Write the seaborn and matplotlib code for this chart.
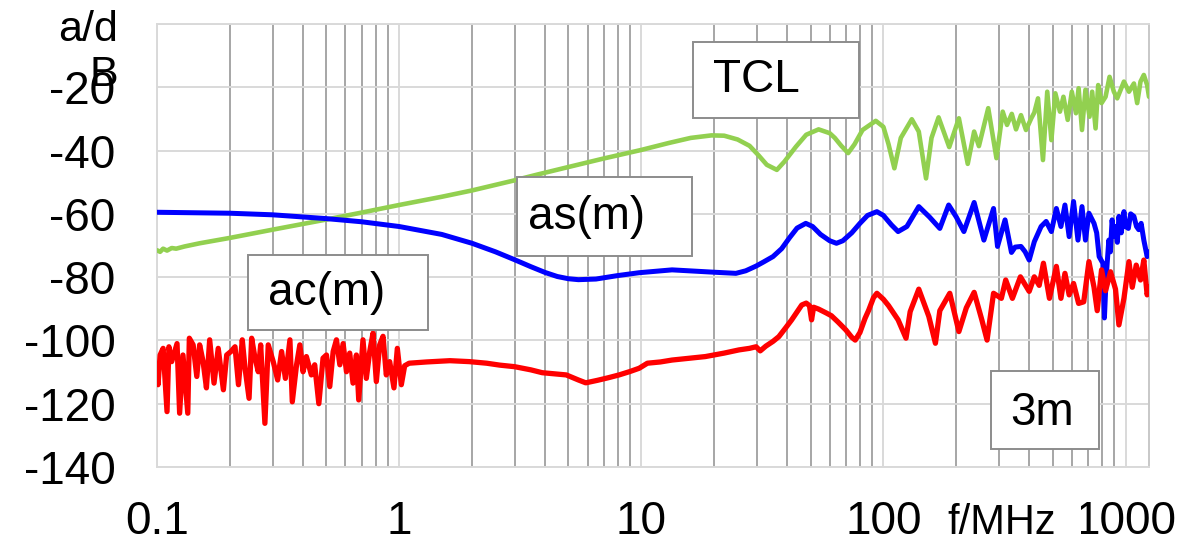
import numpy as np
import pandas as pd
import seaborn as sns
import matplotlib.pyplot as plt
from matplotlib.patches import Rectangle
from matplotlib.ticker import LogLocator, FixedLocator, NullFormatter

# TCL (green)
tcl_f = [0.1, 0.103, 0.106, 0.11, 0.115, 0.12, 0.13, 0.15, 0.2, 0.3, 0.5, 0.7, 1.0, 1.5, 2.0, 3.0,
         3.76, 5.0, 7.0, 10.0, 13.0, 16.0, 19.5, 22.0, 25.0, 28.0, 30.5, 33.0, 36.3, 39.0, 43.5,
         48.0, 54.0, 60.0, 63.0, 67.0, 71.5, 76.0, 82.0, 93.0, 100.0, 105.0, 111.0, 118.0, 131.0,
         140.0, 150.0, 158.0, 169.0, 187.0, 205.0, 223.0, 237.0, 248.0, 271.0, 293.0, 311.0, 324.0,
         339.0, 353.0, 370.0, 388.0, 408.0, 420.0, 435.0, 456.0, 475.0, 494.0, 513.0, 536.0, 554.0,
         577.0, 600.0, 624.0, 640.0, 661.0, 683.0, 710.0, 728.0, 752.0, 771.0, 796.0, 827.0, 859.0,
         895.0, 924.0, 985.0, 1033.0, 1083.0, 1117.0, 1153.0, 1190.0, 1228.0, 1250.0]
tcl_db = [-71.5, -72.0, -71.0, -71.6, -70.8, -71.0, -70.3, -69.3, -67.6, -65.0, -61.8, -59.6, -57.2,
          -54.6, -52.6, -49.4, -47.5, -45.2, -42.5, -39.8, -37.6, -36.0, -35.2, -35.3, -36.5,
          -38.5, -41.5, -44.5, -46.1, -43.5, -38.8, -35.0, -33.3, -34.5, -36.0, -38.5, -40.8,
          -38.0, -33.5, -30.6, -32.5, -38.0, -45.6, -36.0, -30.1, -34.0, -48.8, -36.0, -29.5,
          -38.9, -29.8, -44.2, -34.0, -38.6, -26.6, -42.4, -27.7, -31.9, -28.4, -33.3, -28.8,
          -33.5, -29.8, -28.0, -23.5, -43.0, -21.4, -36.7, -21.9, -27.7, -23.0, -30.3, -21.4,
          -28.2, -20.3, -33.5, -20.8, -29.3, -21.4, -33.0, -19.3, -25.0, -23.0, -16.7, -21.4,
          -23.5, -18.2, -21.4, -18.8, -25.0, -18.2, -16.1, -19.3, -23.0]

# as(m) (blue)
as_f = [0.1, 0.2, 0.3, 0.5, 0.7, 1.0, 1.5, 2.0, 2.5, 3.0, 3.5, 4.0, 4.5, 5.0, 5.5, 6.5, 8.0, 9.8,
        13.4, 19.5, 24.6, 27.0, 29.8, 32.0, 35.0, 38.0, 41.0, 44.0, 47.8, 51.0, 55.0, 60.0, 64.0,
        68.0, 74.0, 80.0, 86.0, 94.0, 100.0, 108.0, 115.0, 125.0, 140.0, 155.0, 171.0, 186.0, 200.0,
        215.0, 237.0, 260.0, 285.0, 296.0, 318.0, 338.0, 350.0, 370.0, 385.0, 400.0, 420.0, 448.0,
        470.0, 494.0, 518.0, 541.0, 562.0, 585.0, 610.0, 636.0, 661.0, 683.0, 706.0, 741.0, 760.0,
        778.0, 806.0, 818.0, 832.0, 853.0, 866.0, 880.0, 895.0, 909.0, 925.0, 939.0, 960.0, 985.0,
        1000.0, 1027.0, 1050.0, 1083.0, 1110.0, 1134.0, 1160.0, 1190.0, 1228.0, 1250.0]
as_db = [-59.5, -59.8, -60.3, -61.5, -62.5, -64.0, -66.5, -69.3, -72.0, -74.5, -76.7, -78.5, -79.8,
         -80.5, -80.8, -80.6, -79.5, -78.6, -77.7, -78.4, -78.8, -78.0, -76.5, -75.2, -73.5, -71.0,
         -67.5, -64.5, -63.0, -64.0, -66.5, -68.5, -69.3, -68.5, -66.0, -63.0, -60.5, -59.3, -60.5,
         -63.5, -65.6, -64.0, -57.7, -61.0, -64.6, -57.2, -61.0, -65.6, -56.4, -68.3, -58.3, -70.3,
         -61.9, -72.2, -70.5, -70.3, -72.0, -74.6, -68.8, -64.0, -62.4, -65.6, -58.3, -64.0, -57.2,
         -67.2, -56.1, -68.3, -57.7, -68.3, -59.8, -63.0, -66.0, -73.5, -75.6, -92.9, -80.0, -68.3,
         -72.0, -61.9, -67.0, -64.0, -69.0, -60.8, -66.0, -59.3, -64.0, -64.6, -60.0, -60.8, -64.0,
         -65.0, -63.0, -68.3, -73.5, -72.0]

# ac(m) (red)
ac_f = [0.1, 0.101, 0.103, 0.106, 0.11, 0.112, 0.115, 0.121, 0.124, 0.128, 0.134, 0.136, 0.141,
        0.146, 0.15, 0.155, 0.16, 0.165, 0.172, 0.179, 0.188, 0.194, 0.202, 0.21, 0.217, 0.225,
        0.231, 0.24, 0.246, 0.254, 0.262, 0.268, 0.279, 0.288, 0.302, 0.315, 0.327, 0.339, 0.354,
        0.362, 0.377, 0.389, 0.401, 0.414, 0.434, 0.448, 0.466, 0.485, 0.501, 0.517, 0.534, 0.551,
        0.569, 0.587, 0.606, 0.625, 0.645, 0.666, 0.681, 0.709, 0.732, 0.756, 0.78, 0.805, 0.831,
        0.858, 0.885, 0.914, 0.952, 0.983, 1.021, 1.054, 1.1, 1.3, 1.62, 1.95, 2.3, 2.6, 3.0, 3.5,
        3.9, 4.9, 5.5, 5.9, 6.6, 7.3, 8.1, 9.0, 9.8, 10.6, 12.0, 13.4, 16.0, 18.4, 22.0, 25.3,
        28.0, 29.8, 31.0, 32.7, 35.0, 37.0, 39.5, 41.8, 44.0, 46.0, 48.0, 49.5, 50.5, 51.5, 54.0,
        58.0, 61.0, 65.0, 70.0, 74.0, 76.5, 80.0, 84.0, 87.0, 91.0, 94.0, 100.0, 105.0, 115.0,
        124.0, 129.0, 140.0, 154.0, 164.0, 171.0, 188.0, 205.0, 220.0, 237.0, 255.0, 268.0, 285.0,
        307.0, 320.0, 341.0, 368.0, 400.0, 420.0, 440.0, 458.0, 485.0, 518.0, 541.0, 562.0, 585.0,
        610.0, 640.0, 672.0, 706.0, 741.0, 764.0, 796.0, 827.0, 867.0, 909.0, 939.0, 985.0, 1033.0,
        1066.0, 1107.0, 1153.0, 1190.0, 1228.0, 1250.0]
ac_db = [-108.0, -114.0, -104.6, -102.5, -122.5, -102.0, -106.7, -101.0, -123.0, -104.6, -123.0,
         -99.3, -101.4, -111.4, -101.4, -106.7, -115.0, -99.8, -113.5, -102.5, -115.6, -104.6,
         -103.5, -102.0, -114.0, -99.8, -108.8, -118.3, -99.3, -105.6, -109.9, -101.4, -126.2,
         -101.4, -106.7, -112.5, -103.5, -112.0, -99.8, -119.4, -107.7, -101.4, -109.9, -105.1,
         -110.9, -107.7, -120.0, -105.6, -104.6, -114.6, -103.5, -99.8, -107.7, -101.0, -109.9,
         -104.0, -113.5, -104.6, -118.8, -99.8, -112.0, -103.5, -97.7, -113.0, -101.4, -98.7,
         -110.9, -106.7, -115.0, -102.5, -114.0, -108.0, -107.2, -106.8, -106.4, -106.7, -107.2,
         -107.8, -108.3, -109.3, -110.2, -110.9, -112.5, -113.4, -112.6, -111.8, -110.9, -109.8,
         -108.8, -107.2, -106.8, -106.2, -105.6, -105.1, -104.0, -103.0, -102.5, -102.0, -103.3,
         -101.8, -100.3, -98.8, -96.0, -93.5, -91.0, -88.8, -88.2, -89.0, -93.5, -89.5, -90.1,
         -91.3, -92.2, -94.2, -96.7, -99.0, -99.9, -97.5, -93.0, -90.4, -86.5, -85.1, -87.0, -89.0,
         -93.5, -99.3, -90.9, -83.8, -92.4, -100.9, -90.6, -85.1, -97.2, -89.7, -84.8, -93.5, -99.9,
         -85.1, -86.7, -80.9, -86.7, -79.9, -84.5, -79.9, -82.6, -75.6, -86.7, -76.6, -86.7, -78.8,
         -85.6, -82.0, -88.3, -87.8, -75.1, -83.2, -90.6, -77.7, -84.3, -78.3, -83.8, -95.1, -86.7,
         -75.1, -83.2, -76.2, -80.9, -74.6, -85.6, -83.0]

x_ticks = [0.1, 1, 10, 100, 1000]
x_labels = ["0.1", "1", "10", "100", "1000"]
y_ticks = [-140, -120, -100, -80, -60, -40, -20, 0]
y_labels = ["-140", "-120", "-100", "-80", "-60", "-40", "-20", ""]

sns.set_style("white")
plt.rcParams["font.family"] = ["Liberation Sans", "DejaVu Sans"]
plt.rcParams["axes.unicode_minus"] = False
plt.rcParams["text.color"] = "black"

W, H = 1199, 543
fig = plt.figure(figsize=(W / 100, H / 100), dpi=100)
ax = fig.add_axes([157 / W, (H - 467) / H, 992 / W, 443 / H])

green, blue, red = "#92D050", "#0000FF", "#FF0000"
for f, v, c, lw in [(tcl_f, tcl_db, green, 3.3), (as_f, as_db, blue, 3.6), (ac_f, ac_db, red, 3.8)]:
    df = pd.DataFrame({"f": f, "a": v})
    sns.lineplot(data=df, x="f", y="a", ax=ax, color=c, linewidth=lw,
                 estimator=None, sort=False, solid_joinstyle="round", zorder=3)

ax.set_xscale("log")
ax.set_xlim(0.1, 1250)
ax.set_ylim(-140, 0)
ax.xaxis.set_major_locator(FixedLocator(x_ticks))
ax.set_xticklabels(x_labels)
ax.xaxis.set_minor_locator(LogLocator(base=10, subs=np.arange(2, 10)))
ax.xaxis.set_minor_formatter(NullFormatter())
ax.set_yticks(y_ticks)
ax.set_yticklabels(y_labels)
ax.tick_params(axis="both", which="both", length=0, labelsize=33, labelcolor="black")
ax.tick_params(axis="y", pad=30)
ax.tick_params(axis="x", pad=24)
ax.set_xlabel("")
ax.set_ylabel("")

ax.grid(which="major", axis="both", color="#D9D9D9", linewidth=1.4, zorder=0)
ax.grid(which="minor", axis="x", color="#A6A6A6", linewidth=1.4, zorder=0)
ax.set_axisbelow(True)
for s in ["left", "top", "bottom"]:
    ax.spines[s].set_color("#D9D9D9")
    ax.spines[s].set_linewidth(1.4)
ax.spines["right"].set_color("#C8C8C8")
ax.spines["right"].set_linewidth(1.4)

# label boxes (axes fraction)
boxes = [
    ("TCL", 0.5403, 0.7878, 0.1673, 0.1716, 0.5605, 0.8736),
    ("as(m)", 0.3629, 0.4763, 0.1764, 0.1783, 0.374, 0.5643),
    ("ac(m)", 0.0917, 0.3093, 0.1815, 0.1693, 0.1119, 0.3928),
    ("3m", 0.8407, 0.0406, 0.1089, 0.1761, 0.8599, 0.1219),
]
for txt, x0, y0, w, h, tx, ty in boxes:
    ax.add_patch(Rectangle((x0, y0), w, h, transform=ax.transAxes, facecolor="white",
                           edgecolor="#8C8C8C", linewidth=1.4, zorder=5, clip_on=False))
    ax.text(tx, ty, txt, transform=ax.transAxes, fontsize=33, color="black",
            ha="left", va="center", zorder=6)

fig.text(118 / W, 1 - 41 / H, "a/d", fontsize=31, ha="right", va="baseline")
fig.text(118 / W, 1 - 86 / H, "B", fontsize=31, ha="right", va="baseline")
fig.text(1002 / W, 9 / H, "f/MHz", fontsize=30, ha="center", va="baseline",
         bbox=dict(facecolor="white", edgecolor="none", pad=18))

fig.savefig("out.png", dpi=100)
